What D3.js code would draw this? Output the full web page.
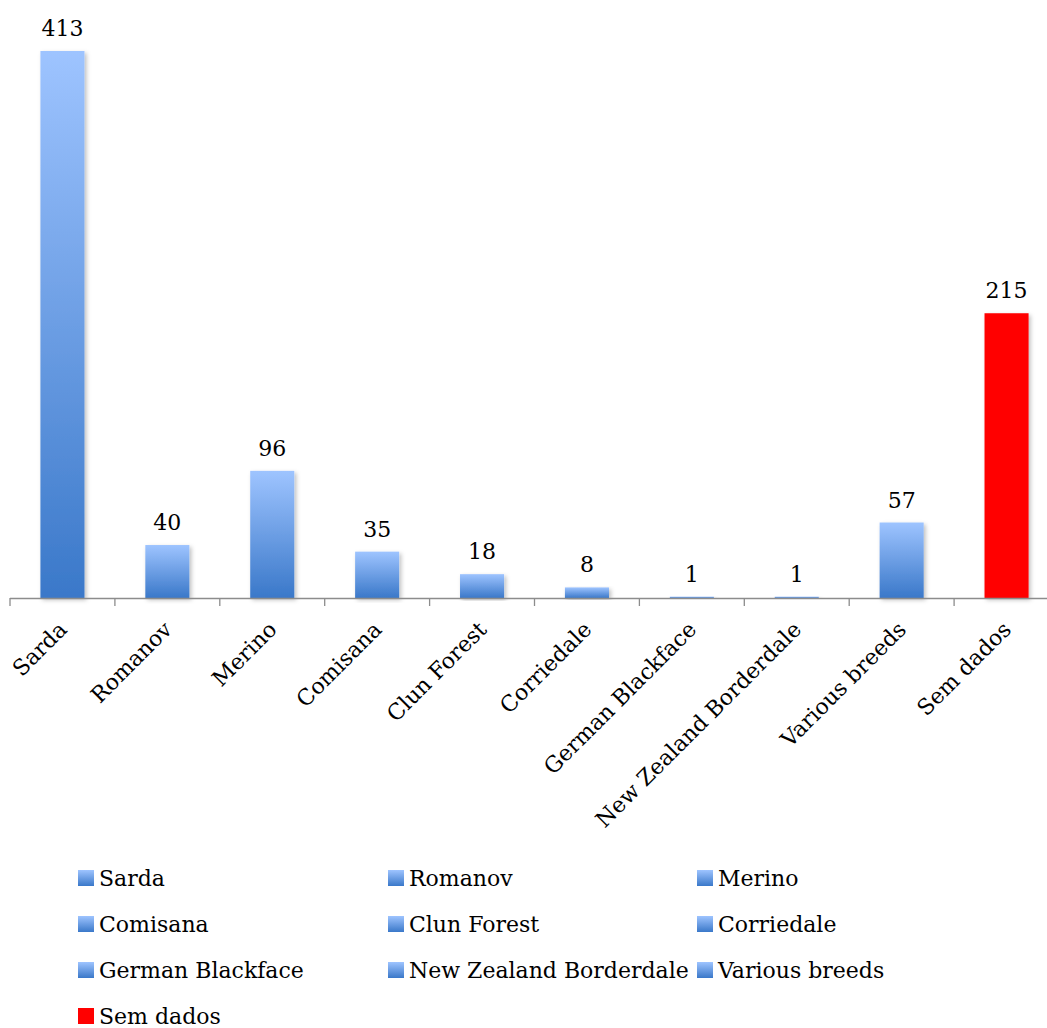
<!DOCTYPE html>
<html>
<head>
<meta charset="utf-8">
<script src="https://cdn.jsdelivr.net/npm/d3@7"></script>
<style>
  html, body { margin: 0; padding: 0; background: #fff; }
  svg { display: block; }
  text { font-family: "DejaVu Serif", serif; fill: #000; }
</style>
</head>
<body>
<svg id="chart" width="1047" height="1028"></svg>
<script>
// Breed counts
const categories = ["Sarda", "Romanov", "Merino", "Comisana", "Clun Forest", "Corriedale",
  "German Blackface", "New Zealand Borderdale", "Various breeds", "Sem dados"];
const counts = [413, 40, 96, 35, 18, 8, 1, 1, 57, 215];
const highlighted = ["Sem dados"];

const svg = d3.select("#chart");
const W = 1047, H = 1028;
const baseY = 598;
const fontSize = "22px";

const x = d3.scaleBand().domain(categories).range([10, 1059]).paddingInner(0.58).paddingOuter(0.29);
const y = d3.scaleLinear().domain([0, 413]).range([baseY, 51]);

const defs = svg.append("defs");
const grad = defs.append("linearGradient").attr("id", "barGrad")
  .attr("x1", 0).attr("y1", 0).attr("x2", 0).attr("y2", 1);
grad.append("stop").attr("offset", "0%").attr("stop-color", "#9ec4ff");
grad.append("stop").attr("offset", "100%").attr("stop-color", "#3a78c9");

const shadow = defs.append("filter").attr("id", "shadow")
  .attr("x", "-20%").attr("y", "-5%").attr("width", "150%").attr("height", "115%");
shadow.append("feDropShadow").attr("dx", 2).attr("dy", 2).attr("stdDeviation", 2)
  .attr("flood-color", "#000").attr("flood-opacity", 0.25);

const colorOf = c => highlighted.includes(c) ? "#ff0000" : "url(#barGrad)";

// Bars
svg.append("g").selectAll("rect").data(categories).join("rect")
  .attr("x", c => x(c))
  .attr("y", (c, i) => y(counts[i]))
  .attr("width", x.bandwidth())
  .attr("height", (c, i) => Math.max(baseY - y(counts[i]), 1.5))
  .attr("fill", colorOf)
  .attr("filter", "url(#shadow)");

// Value labels
svg.append("g").selectAll("text").data(categories).join("text")
  .attr("x", c => x(c) + x.bandwidth() / 2)
  .attr("y", (c, i) => y(counts[i]) - 15)
  .attr("text-anchor", "middle")
  .style("font-size", fontSize)
  .text((c, i) => counts[i]);

// Category axis
const step = x.step();
const axis = svg.append("g").attr("stroke", "#8c8c8c").attr("stroke-width", 1.3);
axis.append("line").attr("x1", 10).attr("x2", W).attr("y1", baseY + 0.5).attr("y2", baseY + 0.5);
axis.selectAll("line.tick").data(d3.range(categories.length + 1)).join("line")
  .attr("class", "tick")
  .attr("x1", i => 10 + i * step).attr("x2", i => 10 + i * step)
  .attr("y1", baseY).attr("y2", baseY + 8);

svg.append("g").selectAll("text").data(categories).join("text")
  .attr("transform", c => `translate(${x(c) + x.bandwidth() / 2 - 5},${baseY + 22}) rotate(-45)`)
  .attr("text-anchor", "end")
  .attr("dy", "0.7em")
  .style("font-size", fontSize)
  .text(c => c);

// Legend
const colX = [78, 388, 697];
const rowY = [878, 924, 970, 1016];
const legend = svg.append("g").selectAll("g").data(categories).join("g")
  .attr("transform", (c, i) => `translate(${colX[i % 3]},${rowY[Math.floor(i / 3)]})`);
legend.append("rect")
  .attr("x", 0).attr("y", -8).attr("width", 16).attr("height", 16)
  .attr("fill", colorOf);
legend.append("text")
  .attr("x", 21).attr("y", 0).attr("dy", "0.35em")
  .style("font-size", fontSize)
  .text(c => c);
</script>
</body>
</html>
